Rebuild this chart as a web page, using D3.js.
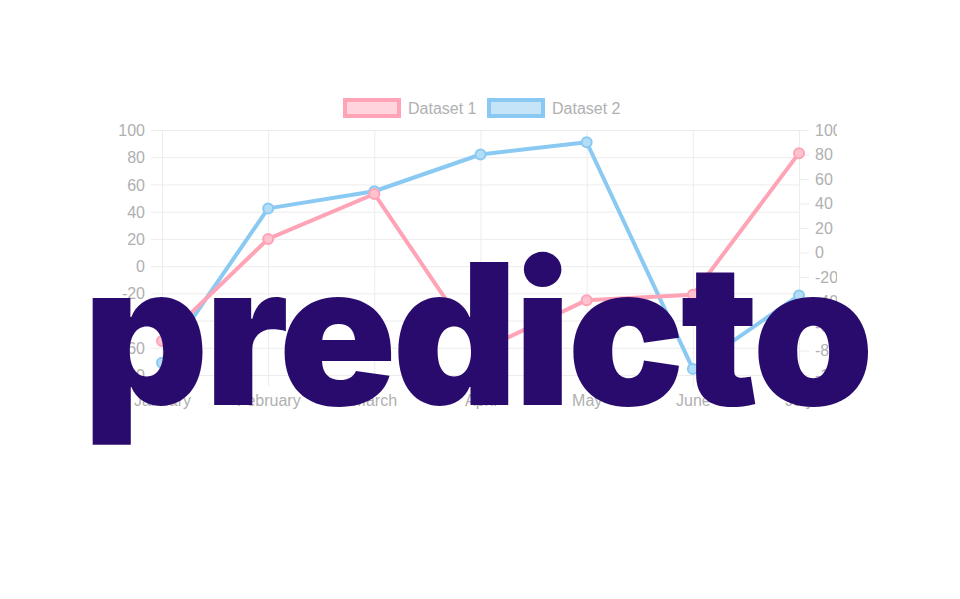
<!DOCTYPE html>
<html>
<head>
<meta charset="utf-8">
<script src="https://cdnjs.cloudflare.com/ajax/libs/d3/7.8.5/d3.min.js"></script>
<style>
  html, body { margin: 0; padding: 0; background: #fff; }
  svg { display: block; font-family: "Liberation Sans", Arial, sans-serif; }
</style>
</head>
<body>
<svg id="chart" width="960" height="599"></svg>
<script>
// chart data
const months = ["January", "February", "March", "April", "May", "June", "July"];
const dataset1 = [-55, 20, 53, -62, -25, -21, 83];
const dataset2 = [-90, 36, 50, 80, 90, -95, -35];
const leftTicks = [100, 80, 60, 40, 20, 0, -20, -40, -60, -80];
const rightTicks = [100, 80, 60, 40, 20, 0, -20, -40, -60, -80, -100];
const legendLabels = ["Dataset 1", "Dataset 2"];

const margin = { top: 130, right: 161, bottom: 224, left: 162 };
const svg = d3.select("#chart");
const width = svg.attr("width") - margin.left - margin.right;
const height = svg.attr("height") - margin.top - margin.bottom;

const gridColor = "#ececec";
const textColor = "#b0b0b0";
const colors = [
  { line: "#ffa3b6", fill: "#ffc2cf" },
  { line: "#8acaf2", fill: "#b3dcf6" }
];
// plain hyphen like the original canvas chart
const fmt = (d) => String(d);

svg.append("defs").append("clipPath")
  .attr("id", "canvas-clip")
  .append("rect")
  .attr("x", 0).attr("y", 0)
  .attr("width", 837).attr("height", 599);

const g = svg.append("g")
  .attr("clip-path", "url(#canvas-clip)")
  .append("g")
  .attr("transform", "translate(" + margin.left + "," + margin.top + ")");

const x = d3.scalePoint().domain(months).range([0, width]);
const yLeft = d3.scaleLinear().domain([-80, 100]).range([height, 0]);
const yRight = d3.scaleLinear().domain([-100, 100]).range([height, 0]);

// left axis + horizontal grid
const axisLeft = g.append("g")
  .attr("class", "axis-y")
  .call(d3.axisLeft(yLeft).tickValues(leftTicks).tickFormat(fmt).tickSize(-width).tickSizeOuter(0).tickPadding(0));
axisLeft.select(".domain").remove();
axisLeft.selectAll(".tick line")
  .attr("x1", -11)
  .attr("stroke", gridColor);
axisLeft.selectAll(".tick text")
  .attr("x", -17)
  .attr("dy", "0.35em")
  .attr("fill", textColor)
  .style("font-size", "16px");

// x axis + vertical grid
const axisX = g.append("g")
  .attr("class", "axis-x")
  .attr("transform", "translate(0," + height + ")")
  .call(d3.axisBottom(x).tickSize(-height).tickSizeOuter(0).tickPadding(0));
axisX.select(".domain").remove();
axisX.selectAll(".tick line")
  .attr("y1", 11)
  .attr("stroke", gridColor);
axisX.selectAll(".tick text")
  .attr("y", 25)
  .attr("dy", "0.35em")
  .attr("fill", textColor)
  .style("font-size", "16px");

// right axis, ticks only
const axisRight = g.append("g")
  .attr("class", "axis-y2")
  .attr("transform", "translate(" + width + ",0)")
  .call(d3.axisRight(yRight).tickValues(rightTicks).tickFormat(fmt).tickSize(10).tickSizeOuter(0).tickPadding(6));
axisRight.select(".domain").remove();
axisRight.selectAll(".tick line").attr("stroke", gridColor);
axisRight.selectAll(".tick text")
  .attr("fill", textColor)
  .style("font-size", "16px");

// lines, dataset 2 first so dataset 1 sits on top
const series = [
  { values: dataset2, y: yRight, c: colors[1] },
  { values: dataset1, y: yLeft, c: colors[0] }
];

series.forEach((s) => {
  const line = d3.line()
    .x((d, i) => x(months[i]))
    .y((d) => s.y(d));

  g.append("path")
    .datum(s.values)
    .attr("fill", "none")
    .attr("stroke", s.c.line)
    .attr("stroke-width", 4)
    .attr("stroke-linejoin", "round")
    .attr("d", line);

  g.selectAll(null)
    .data(s.values)
    .enter().append("circle")
    .attr("cx", (d, i) => x(months[i]))
    .attr("cy", (d) => s.y(d))
    .attr("r", 5)
    .attr("fill", s.c.fill)
    .attr("stroke", s.c.line)
    .attr("stroke-width", 2);
});

// legend
const legendX = [343, 487];
const legend = svg.append("g").attr("class", "legend");
legendLabels.forEach((label, i) => {
  legend.append("rect")
    .attr("x", legendX[i] + 2)
    .attr("y", 100)
    .attr("width", 54)
    .attr("height", 16)
    .attr("fill", i === 0 ? "#ffd4dd" : "#c6e4f8")
    .attr("stroke", colors[i].line)
    .attr("stroke-width", 4);
  legend.append("text")
    .attr("x", legendX[i] + 65)
    .attr("y", 108)
    .attr("dy", "0.35em")
    .attr("fill", textColor)
    .style("font-size", "16px")
    .text(label);
});

// logo over the chart
svg.append("text")
  .attr("x", 83)
  .attr("y", 405)
  .attr("textLength", 787)
  .attr("lengthAdjust", "spacingAndGlyphs")
  .attr("fill", "#290b6d")
  .style("font-family", "Inter, 'Open Sans', sans-serif")
  .style("font-weight", 900)
  .style("font-size", "196px")
  .style("letter-spacing", "-4px")
  .text("predicto");
</script>
</body>
</html>
